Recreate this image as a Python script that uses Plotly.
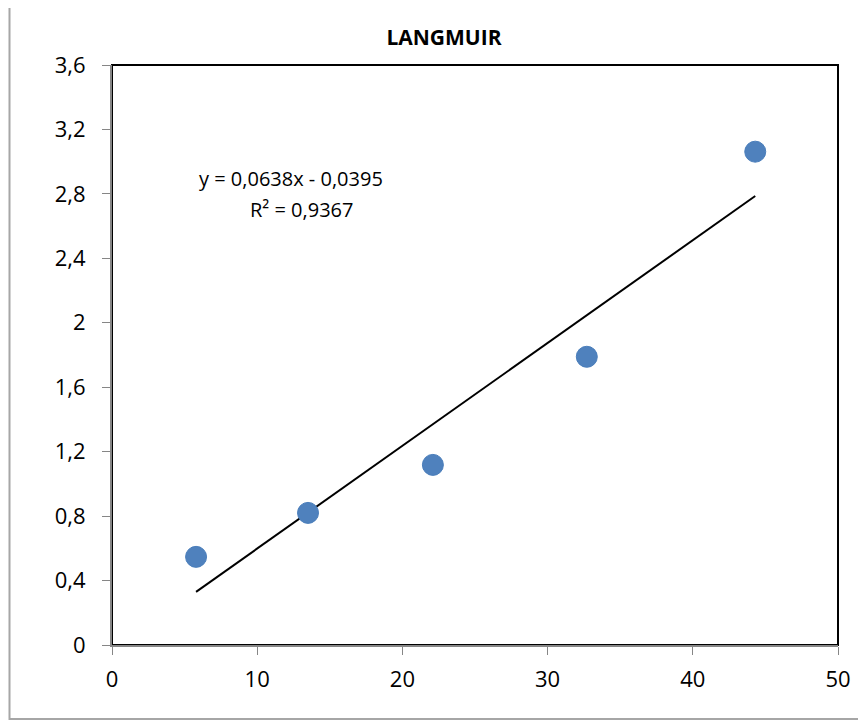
import plotly.graph_objects as go

# Data
x_vals = [5.79, 13.5, 22.1, 32.7, 44.3]
y_vals = [0.547, 0.82, 1.118, 1.789, 3.062]

# Trendline coefficients (as given in chart annotation)
slope = 0.0638
intercept = -0.0395
eq_text = "y = 0,0638x - 0,0395"
r2_text = "R² = 0,9367"
title_text = "LANGMUIR"

x_ticks = [0, 10, 20, 30, 40, 50]
y_ticks = [0, 0.4, 0.8, 1.2, 1.6, 2.0, 2.4, 2.8, 3.2, 3.6]
y_ticklabels = ["0", "0,4", "0,8", "1,2", "1,6", "2", "2,4", "2,8", "3,2", "3,6"]

trend_x = [min(x_vals), max(x_vals)]
trend_y = [slope * v + intercept for v in trend_x]

FONT = "Open Sans"

fig = go.Figure()
fig.add_trace(go.Scatter(
    x=trend_x, y=trend_y, mode="lines",
    line=dict(color="black", width=2), hoverinfo="skip", showlegend=False))
fig.add_trace(go.Scatter(
    x=x_vals, y=y_vals, mode="markers",
    marker=dict(size=21, color="#4F81BD", line=dict(color="#4A7EBB", width=1)),
    showlegend=False))

# page has an 8px body margin; figure coordinates = page - 8
OFF = 8
W, H = 858, 716
L, R, T, B = 104, 28, 57, 79
pw, ph = W - L - R, H - T - B

def px_x(px):  # page px -> paper x
    return (px - OFF - L) / pw

def px_y(py):  # page px -> paper y
    return (H - B - (py - OFF)) / ph

fig.update_layout(
    width=W, height=H,
    margin=dict(l=L, r=R, t=T, b=B),
    paper_bgcolor="white", plot_bgcolor="white",
    font=dict(family=FONT, size=22, color="black"),
    separators=",.",
    title=dict(text="<b>" + title_text + "</b>", x=px_x(444), xref="paper",
               xanchor="center", y=1 - (38 - OFF) / H, yanchor="middle",
               font=dict(family=FONT, size=21, color="black")),
    xaxis=dict(range=[0, 50], tickvals=x_ticks, showgrid=False, zeroline=False,
               showline=True, linecolor="#868686", linewidth=2,
               ticks="outside", ticklen=8, tickcolor="#868686", tickwidth=1,
               tickfont=dict(size=22), ticklabelstandoff=6),
    yaxis=dict(range=[0, 3.6], tickvals=y_ticks, ticktext=y_ticklabels,
               showgrid=False, zeroline=False,
               showline=True, linecolor="#868686", linewidth=2,
               ticks="outside", ticklen=8, tickcolor="#868686", tickwidth=1,
               tickfont=dict(size=22), ticklabelstandoff=12),
    shapes=[
        dict(type="rect", xref="paper", yref="paper", x0=0, x1=1, y0=0, y1=1,
             line=dict(color="black", width=2), layer="below"),
        dict(type="rect", xref="paper", yref="paper",
             x0=px_x(9.5), x1=px_x(900),
             y0=px_y(719), y1=px_y(-50),
             line=dict(color="#A6A6A6", width=2), layer="below"),
    ],
    annotations=[
        dict(text=eq_text, xref="paper", yref="paper",
             x=px_x(290.5), y=px_y(179), xanchor="center", yanchor="middle",
             showarrow=False, font=dict(family=FONT, size=20, color="black")),
        dict(text=r2_text, xref="paper", yref="paper",
             x=px_x(301.5), y=px_y(209), xanchor="center", yanchor="middle",
             showarrow=False, font=dict(family=FONT, size=20, color="black")),
    ],
)

fig.write_html("out.html")
